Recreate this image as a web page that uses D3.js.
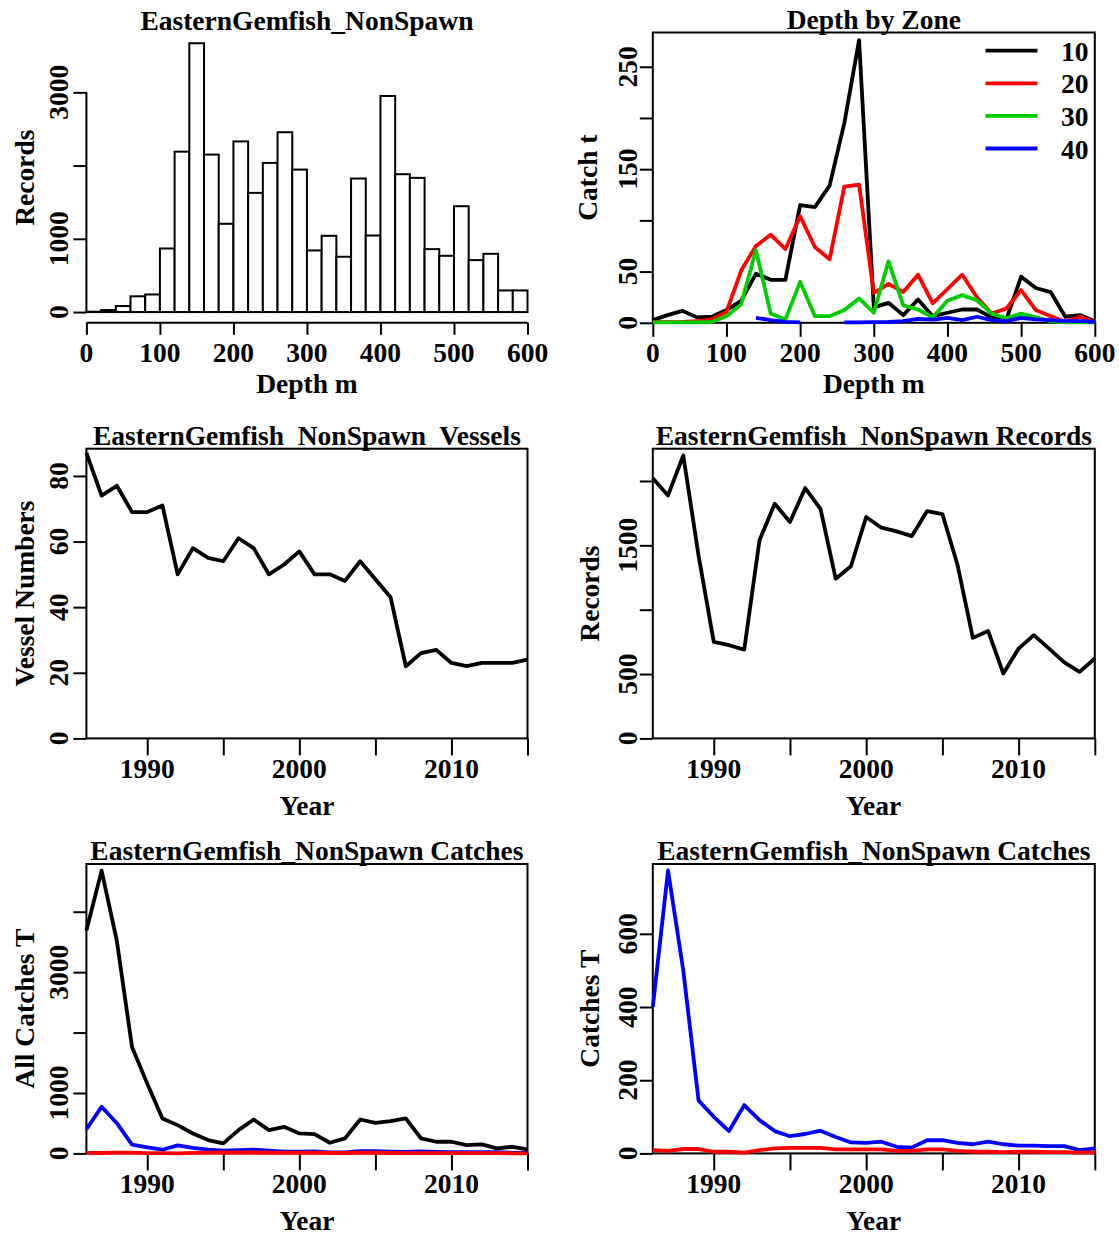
<!DOCTYPE html>
<html>
<head>
<meta charset="utf-8">
<script src="https://cdn.jsdelivr.net/npm/d3@7/dist/d3.min.js"></script>
<style>
  html, body { margin: 0; padding: 0; background: #ffffff; }
  svg { display: block; }
  text { font-family: 'Liberation Serif', 'Times New Roman', serif; font-weight: bold; font-size: 27.5px; fill: #000; white-space: pre; }
</style>
</head>
<body>
<svg id="chart" width="1119" height="1238"></svg>
<script>
// ---- Depth histogram (records per 20 m depth class) ----
const depthBreaks = [0, 20, 40, 60, 80, 100, 120, 140, 160, 180, 200, 220, 240, 260, 280, 300,
                     320, 340, 360, 380, 400, 420, 440, 460, 480, 500, 520, 540, 560, 580, 600];
const depthRecords = [5, 27, 82, 215, 240, 868, 2190, 3670, 2150, 1205, 2330, 1627, 2036, 2455, 1945,
                      841, 1041, 755, 1823, 1045, 2950, 1882, 1832, 859, 768, 1445, 709, 795, 295, 295];

// ---- Catch by depth for each zone ----
const zoneDepths = [0, 20, 40, 60, 80, 100, 120, 140, 160, 180, 200, 220, 240, 260, 280, 300,
                    320, 340, 360, 380, 400, 420, 440, 460, 480, 500, 520, 540, 560, 580, 600];
const zone10 = [2.6, 7.5, 11.7, 5.3, 5.9, 12.4, 21.5, 48, 42, 42, 115, 113, 134, 195, 276, 15,
                19.5, 7.5, 22.8, 6.5, 9.8, 13, 13, 5.3, 3.3, 45, 34, 30, 5.9, 7.5, 1.6];
const zone20 = [0.6, 0.6, 0.8, 1.5, 3.3, 10.7, 51, 75, 86, 72, 104, 74, 62, 133, 135, 29,
                38, 30, 47, 19, 33, 47, 25, 9, 14, 32, 12.4, 6.5, 1, 5.9, 0.4];
const zone30 = [0.4, 0.4, 0.4, 0.5, 0.8, 6.5, 18, 71, 9, 3.3, 40, 6.5, 6.5, 12.4, 23.8, 9.8,
                60, 17, 13, 5.3, 21.5, 27, 22, 9, 4.3, 9, 5.3, 1.6, 0.4, 0.4, 0.4];
const zone40 = [null, null, null, null, null, null, null, 4.9, 2.6, 1, 0.4, null, null, 0.4, 0.4, 0.6,
                0.8, 1.6, 3.9, 3, 4.9, 2.6, 5.9, 2.6, 1.6, 4.9, 3.3, 2.6, 1.6, 1.6, 1];
const zoneNames = ["10", "20", "30", "40"];
const zoneColors = ["#000000", "#ff0000", "#00cc00", "#0000ff"];

// ---- Annual series ----
const years = [1986, 1987, 1988, 1989, 1990, 1991, 1992, 1993, 1994, 1995, 1996, 1997, 1998, 1999, 2000,
               2001, 2002, 2003, 2004, 2005, 2006, 2007, 2008, 2009, 2010, 2011, 2012, 2013, 2014, 2015];
const vessels = [87, 74, 77, 69, 69, 71, 50, 58, 55, 54, 61, 58, 50, 53, 57,
                 50, 50, 48, 54, 48.5, 43, 22, 26, 27, 23, 22, 23, 23, 23, 24];
const records = [2022, 1888, 2198, 1422, 750, 724, 690, 1539, 1823, 1681, 1945, 1784, 1241, 1337, 1720,
                 1637, 1608, 1572, 1766, 1743, 1345, 781, 835, 504, 698, 802, 698, 590, 517, 621];
const allCatches = [3690, 4680, 3520, 1760, 1155, 578, 468, 330, 220, 165, 385, 561, 385, 440, 330,
                    320, 176, 248, 561, 506, 534, 578, 248, 193, 193, 138, 149, 83, 110, 66];
const catchesBlue = [400, 773, 500, 145, 100, 61, 132, 91, 61, 47, 53, 62, 45, 30, 29,
                     32, 18, 16, 36, 36, 29, 25, 32, 25, 21, 21, 20, 20, 9, 14];
const catchesRed = [9, 7, 12, 12, 4.5, 4.5, 2, 9, 14, 15, 15, 15, 11, 11, 11,
                    11, 7, 7, 11, 11, 7, 4.5, 4.5, 3.6, 4.5, 4.5, 3.6, 3.6, 2, 2];

// ---- Axis ticks and the tick labels that are printed ----
const depthTicks = [0, 100, 200, 300, 400, 500, 600];
const histYTicks = [0, 1000, 2000, 3000];
const histYLabels = [0, 1000, 3000];
const zoneYTicks = [0, 50, 100, 150, 200, 250];
const zoneYLabels = [0, 50, 150, 250];
const yearTicks = [1990, 1995, 2000, 2005, 2010, 2015];
const yearLabels = [1990, 2000, 2010];
const vesselTicks = [0, 20, 40, 60, 80];
const vesselLabels = [0, 20, 40, 60, 80];
const recordTicks = [0, 500, 1000, 1500, 2000];
const recordLabels = [0, 500, 1500];
const allCatchTicks = [0, 1000, 2000, 3000, 4000];
const allCatchLabels = [0, 1000, 3000];
const catchTicks = [0, 200, 400, 600];
const catchLabels = [0, 200, 400, 600];

const LINE_W = 3.8;

const svg = d3.select("#chart");
svg.append("rect").attr("width", 1119).attr("height", 1238).attr("fill", "#fff");

// plot regions
const colL = { x0: 86.4, x1: 527.5 };
const colR = { x0: 652.8, x1: 1094.8 };
const rows = [ { y0: 32.5, y1: 322.8 }, { y0: 448.7, y1: 738.4 }, { y0: 864, y1: 1153.4 } ];

function box(g, c, r) {
  g.append("rect").attr("x", c.x0).attr("y", r.y0)
    .attr("width", c.x1 - c.x0).attr("height", r.y1 - r.y0)
    .attr("fill", "none").attr("stroke", "#000").attr("stroke-width", 2);
}

function leftAxis(g, y, xAt, ticks, labels, labelX, tickLen, withLine) {
  if (withLine) {
    g.append("line").attr("x1", xAt).attr("x2", xAt)
      .attr("y1", y(ticks[0])).attr("y2", y(ticks[ticks.length - 1]))
      .attr("stroke", "#000").attr("stroke-width", 2);
  }
  const a = d3.axisLeft(y).tickValues(ticks).tickSize(tickLen).tickSizeOuter(0).tickFormat("");
  const ag = g.append("g").attr("transform", `translate(${xAt},0)`).call(a);
  ag.select(".domain").remove();
  ag.selectAll(".tick line").attr("stroke", "#000").attr("stroke-width", 2);
  labels.forEach(v => {
    g.append("text").attr("x", labelX).attr("y", y(v))
      .attr("text-anchor", "middle")
      .attr("transform", `rotate(-90,${labelX},${y(v)})`).text(v);
  });
}

function bottomAxis(g, x, yAt, ticks, labels, labelY, tickLen, withLine) {
  if (withLine) {
    g.append("line").attr("y1", yAt).attr("y2", yAt)
      .attr("x1", x(ticks[0])).attr("x2", x(ticks[ticks.length - 1]))
      .attr("stroke", "#000").attr("stroke-width", 2);
  }
  const a = d3.axisBottom(x).tickValues(ticks).tickSize(tickLen).tickSizeOuter(0).tickFormat("");
  const ag = g.append("g").attr("transform", `translate(0,${yAt})`).call(a);
  ag.select(".domain").remove();
  ag.selectAll(".tick line").attr("stroke", "#000").attr("stroke-width", 2);
  labels.forEach(v => {
    g.append("text").attr("x", x(v)).attr("y", labelY).attr("text-anchor", "middle").text(v);
  });
}

function titles(g, c, r, main, xlab, ylab, mainY, xlabY, ylabX) {
  const cx = (c.x0 + c.x1) / 2, cy = (r.y0 + r.y1) / 2;
  g.append("text").attr("x", cx).attr("y", mainY).attr("text-anchor", "middle").text(main);
  g.append("text").attr("x", cx).attr("y", xlabY).attr("text-anchor", "middle").text(xlab);
  g.append("text").attr("x", ylabX).attr("y", cy).attr("text-anchor", "middle")
    .attr("transform", `rotate(-90,${ylabX},${cy})`).text(ylab);
}

function series(g, x, y, xs, vals, color) {
  const pts = xs.map((d, i) => [d, vals[i]]);
  g.append("path").datum(pts)
    .attr("fill", "none").attr("stroke", color).attr("stroke-width", LINE_W)
    .attr("stroke-linejoin", "round")
    .attr("d", d3.line().defined(p => p[1] !== null).x(p => x(p[0])).y(p => y(p[1])));
}

// ---------- Panel 1: histogram of records by depth ----------
{
  const c = colL, r = rows[0];
  const g = svg.append("g");
  const maxC = d3.max(depthRecords);
  const x = d3.scaleLinear().domain([0, 600]).range([c.x0, c.x1]);
  const y = d3.scaleLinear().domain([-0.04 * maxC, 1.04 * maxC]).range([r.y1, r.y0]);
  g.selectAll("rect.bar").data(depthRecords).join("rect").attr("class", "bar")
    .attr("x", (d, i) => x(depthBreaks[i]))
    .attr("width", (d, i) => x(depthBreaks[i + 1]) - x(depthBreaks[i]))
    .attr("y", d => y(d))
    .attr("height", d => y(0) - y(d))
    .attr("fill", "#fff").attr("stroke", "#000").attr("stroke-width", 2);
  leftAxis(g, y, c.x0, histYTicks, histYLabels, 68, 13, true);
  bottomAxis(g, x, r.y1, depthTicks, depthTicks, 362, 12, true);
  titles(g, c, r, "EasternGemfish_NonSpawn", "Depth m", "Records", 29.5, 393, 34);
}

// ---------- Panel 2: catch by depth for each zone ----------
{
  const c = colR, r = rows[0];
  const g = svg.append("g");
  const zones = [zone10, zone20, zone30, zone40];
  const maxV = d3.max(zones.flat().filter(v => v !== null));
  const x = d3.scaleLinear().domain([0, 600]).range([c.x0, c.x1]);
  const y = d3.scaleLinear().domain([0, maxV * 1.027]).range([r.y1, r.y0]);
  box(g, c, r);
  leftAxis(g, y, c.x0, zoneYTicks, zoneYLabels, 637, 13, false);
  bottomAxis(g, x, r.y1, depthTicks, depthTicks, 362, 14, false);
  zones.forEach((z, i) => series(g, x, y, zoneDepths, z, zoneColors[i]));
  titles(g, c, r, "Depth by Zone", "Depth m", "Catch t", 29, 393, 597);
  // legend
  const lg = g.append("g");
  zoneNames.forEach((nm, i) => {
    const ly = 50.7 + i * 32.6;
    lg.append("line").attr("x1", 985.5).attr("x2", 1037.5).attr("y1", ly).attr("y2", ly)
      .attr("stroke", zoneColors[i]).attr("stroke-width", LINE_W);
    lg.append("text").attr("x", 1061).attr("y", ly + 10).text(nm);
  });
}

// ---------- Panel 3: vessel numbers by year ----------
{
  const c = colL, r = rows[1];
  const g = svg.append("g");
  const x = d3.scaleLinear().domain([1986, 2015]).range([c.x0, c.x1]);
  const y = d3.scaleLinear().domain([0, d3.max(vessels) * 1.015]).range([r.y1, r.y0]);
  box(g, c, r);
  leftAxis(g, y, c.x0, vesselTicks, vesselLabels, 68, 13, false);
  bottomAxis(g, x, r.y1, yearTicks, yearLabels, 778, 17, false);
  series(g, x, y, years, vessels, "#000");
  titles(g, c, r, "EasternGemfish  NonSpawn  Vessels", "Year", "Vessel Numbers", 444.5, 814.5, 34);
}

// ---------- Panel 4: records by year ----------
{
  const c = colR, r = rows[1];
  const g = svg.append("g");
  const x = d3.scaleLinear().domain([1986, 2015]).range([c.x0, c.x1]);
  const y = d3.scaleLinear().domain([0, d3.max(records) * 1.024]).range([r.y1, r.y0]);
  box(g, c, r);
  leftAxis(g, y, c.x0, recordTicks, recordLabels, 637, 13, false);
  bottomAxis(g, x, r.y1, yearTicks, yearLabels, 778, 17, false);
  series(g, x, y, years, records, "#000");
  titles(g, c, r, "EasternGemfish  NonSpawn Records", "Year", "Records", 444.5, 814.5, 599);
}

// ---------- Panel 5: all catches by year ----------
{
  const c = colL, r = rows[2];
  const g = svg.append("g");
  const x = d3.scaleLinear().domain([1986, 2015]).range([c.x0, c.x1]);
  const y = d3.scaleLinear().domain([0, d3.max(allCatches) * 1.0235]).range([r.y1, r.y0]);
  box(g, c, r);
  leftAxis(g, y, c.x0, allCatchTicks, allCatchLabels, 68, 13, false);
  bottomAxis(g, x, r.y1, yearTicks, yearLabels, 1193, 17, false);
  series(g, x, y, years, allCatches, "#000");
  series(g, x, y, years, catchesBlue, "#0000ff");
  series(g, x, y, years, catchesRed, "#ff0000");
  titles(g, c, r, "EasternGemfish_NonSpawn Catches", "Year", "All Catches T", 860, 1229.5, 34);
}

// ---------- Panel 6: catches by year ----------
{
  const c = colR, r = rows[2];
  const g = svg.append("g");
  const x = d3.scaleLinear().domain([1986, 2015]).range([c.x0, c.x1]);
  const y = d3.scaleLinear().domain([0, d3.max(catchesBlue) * 1.023]).range([r.y1, r.y0]);
  box(g, c, r);
  leftAxis(g, y, c.x0, catchTicks, catchLabels, 637, 13, false);
  bottomAxis(g, x, r.y1, yearTicks, yearLabels, 1193, 17, false);
  series(g, x, y, years, catchesBlue, "#0000ff");
  series(g, x, y, years, catchesRed, "#ff0000");
  titles(g, c, r, "EasternGemfish_NonSpawn Catches", "Year", "Catches T", 860, 1229.5, 599);
}
</script>
</body>
</html>
